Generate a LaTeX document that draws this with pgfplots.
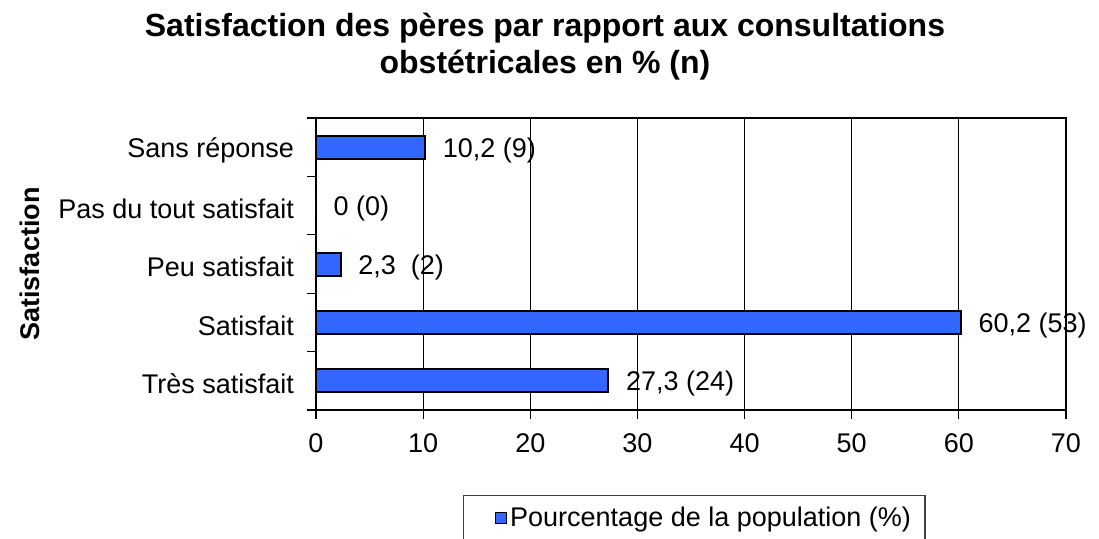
\documentclass[border=0pt]{standalone}
\usepackage{pgfplots}
\pgfplotsset{compat=1.18}
\usepackage{pgfplotstable}
\usepackage{fontspec}
\setmainfont{Liberation Sans}
\definecolor{barblue}{RGB}{51,102,255}
\pgfplotstableread[col sep=semicolon]{
pos;val;lab
0;27.3;27,3 (24)
1;60.2;60,2 (53)
2;2.3;2,3 \ (2)
3;0;0 (0)
4;10.2;10,2 (9)
}\datatab
\newcommand{\lblfont}{\fontsize{13.5}{16}\selectfont}
\begin{document}
\begin{tikzpicture}
\begin{axis}[
  at={(0,0)}, anchor=south west,
  width=375pt, height=146pt, scale only axis,
  xbar, bar width=11.5pt,
  xmin=0, xmax=70, xtick={0,10,...,70},
  ymin=-0.5, ymax=4.5,
  ytick={0,...,4},
  yticklabels={Très satisfait,Satisfait,Peu satisfait,Pas du tout satisfait,Sans réponse},
  minor ytick={-0.5,0.5,...,4.5},
  tick pos=left,
  xmajorgrids, major x grid style={black, line width=0.5pt},
  tick align=outside,
  major tick length=4.5pt, minor tick length=4.5pt,
  major y tick style={draw=none},
  minor y tick style={black, line width=0.6pt},
  x tick style={black, line width=0.6pt},
  axis line style={line width=1pt},
  /pgf/number format/assume math mode=true,
  tick label style={font=\lblfont},
  xticklabel style={yshift=-4pt},
  yticklabel style={xshift=-3pt, yshift=-1.5pt},
  ylabel={Satisfaction},
  ylabel style={font=\lblfont\bfseries, at={(axis description cs:-0.381,0.5)}, anchor=center},
  nodes near coords,
  point meta=explicit symbolic,
  every node near coord/.append style={font=\lblfont, anchor=west, xshift=5pt, yshift=-1.5pt, black},
  legend style={at={(0.196,-0.291)}, anchor=north west, draw=black!75, line width=0.6pt,
    inner xsep=5.5pt, inner ysep=3.7pt, font=\lblfont, nodes={inner xsep=1.5pt}},
  legend cell align=left,
]
\addplot[draw=black, line width=1pt, fill=barblue,
  legend image code/.code={\path (-10pt,0pt); \draw[draw=black,line width=0.6pt,fill=barblue] (0pt,-2.75pt) rectangle (5.5pt,2.75pt);}]
  table[x=val, y=pos, meta=lab]{\datatab};
\addlegendentry{Pourcentage de la population (\%)}
\end{axis}
\node[font=\fontsize{16}{19}\selectfont\bfseries, anchor=base] at (114.5pt,187pt) {Satisfaction des pères par rapport aux consultations};
\node[font=\fontsize{16}{19}\selectfont\bfseries, anchor=base] at (114.5pt,168.5pt) {obstétricales en \% (n)};
\pgfresetboundingbox
\path[use as bounding box] (-158pt,-64pt) rectangle (391.5pt,205pt);
\end{tikzpicture}
\end{document}
